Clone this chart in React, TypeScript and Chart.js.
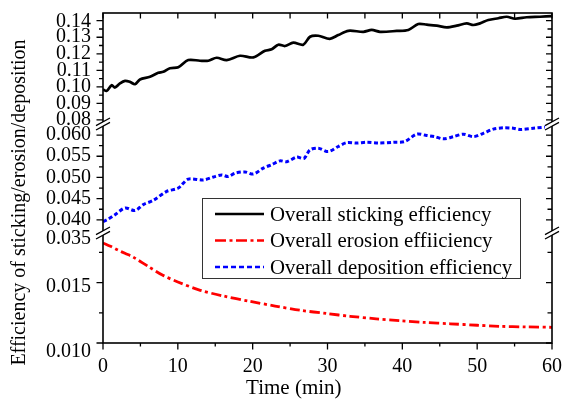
import React, { useEffect, useRef } from 'react';
import { Chart, registerables } from 'chart.js';

Chart.register(...registerables);

// ---------------- data ----------------
const stickingTime = [0, 0.5, 1.16, 1.6, 2.27, 2.94, 3.6, 4.28, 4.94, 6.28, 7.39, 8.06, 8.95, 10.06, 11.4, 12.96, 14.07, 15.19, 16.53, 18.31, 20.09, 21.65, 22.54, 23.43, 24.32, 25.43, 26.77, 27.66, 28.77, 30.3, 31.44, 32.78, 34.79, 35.91, 37.02, 39.25, 40.8, 42.13, 43.26, 44.6, 45.93, 47.27, 48.6, 49.49, 50.38, 51.49, 52.83, 53.95, 55.06, 56.62, 58.4, 60];
const stickingValue = [0.0984, 0.0976, 0.101, 0.0996, 0.1021, 0.1036, 0.103, 0.1016, 0.1045, 0.1061, 0.1085, 0.1091, 0.1113, 0.1118, 0.1162, 0.1158, 0.1158, 0.1176, 0.1162, 0.1188, 0.1178, 0.1218, 0.1227, 0.1255, 0.1247, 0.1267, 0.1255, 0.1303, 0.1309, 0.129, 0.1313, 0.1339, 0.1333, 0.1344, 0.1333, 0.1338, 0.1344, 0.138, 0.1376, 0.137, 0.136, 0.137, 0.1384, 0.1374, 0.1384, 0.1404, 0.1415, 0.1424, 0.1412, 0.1421, 0.1424, 0.1428];

const erosionTime = [0, 1, 2, 3, 4, 6, 8, 10, 13, 16, 19.6, 23, 26.3, 30, 33, 36.5, 39.7, 43, 46.4, 50, 53, 56.5, 60];
const erosionValue = [0.01828, 0.018, 0.01768, 0.0174, 0.01712, 0.01635, 0.0156, 0.01505, 0.01436, 0.0139, 0.01345, 0.01306, 0.01271, 0.01243, 0.01221, 0.012, 0.01184, 0.0117, 0.01159, 0.01147, 0.01138, 0.01133, 0.0113];

const depositionTime = [0, 0.71, 1.6, 2.94, 4.28, 5.39, 6.72, 8.51, 10.06, 11.4, 13.4, 14.74, 15.86, 16.74, 17.64, 18.98, 20.09, 21.42, 22.54, 23.65, 24.55, 25.89, 26.86, 27.66, 28.77, 30.11, 31.44, 32.57, 33.9, 35.24, 36.79, 38.79, 40.36, 41.92, 43.26, 44.37, 45.48, 46.81, 48.15, 49.49, 50.82, 52.16, 53.49, 54.83, 55.73, 57.5, 59.74];
const depositionValue = [0.0396, 0.0402, 0.0412, 0.0428, 0.0422, 0.0436, 0.0446, 0.0467, 0.0475, 0.0496, 0.0494, 0.0501, 0.0506, 0.0502, 0.051, 0.0513, 0.0508, 0.0522, 0.053, 0.0539, 0.0537, 0.0548, 0.0545, 0.0565, 0.0569, 0.0561, 0.0573, 0.0582, 0.0581, 0.0583, 0.0581, 0.0583, 0.0585, 0.0602, 0.0599, 0.0596, 0.0591, 0.0596, 0.0602, 0.0596, 0.0604, 0.0614, 0.0617, 0.0616, 0.0613, 0.0616, 0.062];

const seriesLabels = ['Overall sticking efficiency', 'Overall erosion effiiciency', 'Overall deposition efficiency'];

const xTickValues = [0, 10, 20, 30, 40, 50, 60];
const xMinorValues = [5, 15, 25, 35, 45, 55];

const topTickValues = [0.08, 0.09, 0.1, 0.11, 0.12, 0.13, 0.14];
const topTickLabels = ['0.08', '0.09', '0.10', '0.11', '0.12', '0.13', '0.14'];
const topMinorValues = [0.085, 0.095, 0.105, 0.115, 0.125, 0.135];

const midTickValues = [0.04, 0.045, 0.05, 0.055, 0.06];
const midTickLabels = ['0.040', '0.045', '0.050', '0.055', '0.060'];
const midMinorValues = [0.0425, 0.0475, 0.0525, 0.0575];

const botTickValues = [0.01, 0.015];
const botMinorValues = [0.0125, 0.0175];
const botLabelValues = [0.0186, 0.015, 0.01];
const botLabelTexts = ['0.035', '0.015', '0.010'];

const xTitle = 'Time (min)';
const yTitle = 'Efficiency of sticking/erosion/deposition';

// ---------------- styling ----------------
const FONT = "'Liberation Serif', 'Times New Roman', Times, serif";
const COLORS = ['#000000', '#ff0000', '#0000ff'];
const DASHES: number[][] = [[], [10, 3.5, 3, 3.5], [4, 2.5]];
const LEGEND_DASHES: number[][] = [[], [11, 3.5, 3, 3.5], [5, 3]];
const LABEL_NUDGE: Record<string, number> = { '0.015': 4, '0.010': 9, '0.14': 1.5 };

const toPoints = (xs: number[], ys: number[]) => xs.map((x, i) => ({ x, y: ys[i] }));

const decorPlugin = {
  id: 'decor',
  afterDraw(chart: any) {
    const ctx: CanvasRenderingContext2D = chart.ctx;
    const { left, right, top, bottom } = chart.chartArea;
    const xs = chart.scales.x;
    const panels = [
      { s: chart.scales.yTop, major: topTickValues, minor: topMinorValues, lv: topTickValues, lt: topTickLabels },
      { s: chart.scales.yMid, major: midTickValues, minor: midMinorValues, lv: midTickValues, lt: midTickLabels },
      { s: chart.scales.yBot, major: botTickValues, minor: botMinorValues, lv: botLabelValues, lt: botLabelTexts },
    ];
    ctx.save();
    ctx.strokeStyle = '#000';
    ctx.lineWidth = 1.6;
    ctx.strokeRect(left, top, right - left, bottom - top);

    ctx.lineWidth = 1.3;
    ctx.beginPath();
    xTickValues.forEach((v) => {
      const p = xs.getPixelForValue(v);
      ctx.moveTo(p, bottom); ctx.lineTo(p, bottom + 6.5);
      ctx.moveTo(p, top); ctx.lineTo(p, top + 5.5);
    });
    xMinorValues.forEach((v) => {
      const p = xs.getPixelForValue(v);
      ctx.moveTo(p, bottom); ctx.lineTo(p, bottom + 3.5);
      ctx.moveTo(p, top); ctx.lineTo(p, top + 5.5);
    });
    panels.forEach(({ s, major, minor }) => {
      major.forEach((v) => {
        const p = s.getPixelForValue(v);
        ctx.moveTo(left, p); ctx.lineTo(left - 6.5, p);
        ctx.moveTo(right, p); ctx.lineTo(right - 6, p);
      });
      minor.forEach((v) => {
        const p = s.getPixelForValue(v);
        ctx.moveTo(left, p); ctx.lineTo(left - 4, p);
        ctx.moveTo(right, p); ctx.lineTo(right - 4.5, p);
      });
    });
    ctx.stroke();

    // axis breaks
    const breaks = [chart.scales.yTop.bottom, chart.scales.yMid.bottom];
    const dx = 7, dy = 3.8, g = 2.2;
    breaks.forEach((by: number) => {
      [left, right].forEach((bx: number) => {
        ctx.fillStyle = '#fff';
        ctx.beginPath();
        ctx.moveTo(bx - dx, by - g + dy);
        ctx.lineTo(bx + dx, by - g - dy);
        ctx.lineTo(bx + dx, by + g - dy);
        ctx.lineTo(bx - dx, by + g + dy);
        ctx.closePath();
        ctx.fill();
        ctx.beginPath();
        ctx.lineWidth = 1.3;
        ctx.moveTo(bx - dx, by - g + dy); ctx.lineTo(bx + dx, by - g - dy);
        ctx.moveTo(bx - dx, by + g + dy); ctx.lineTo(bx + dx, by + g - dy);
        ctx.stroke();
      });
    });

    // tick labels
    ctx.fillStyle = '#000';
    ctx.font = `20px ${FONT}`;
    ctx.textAlign = 'right';
    ctx.textBaseline = 'middle';
    panels.forEach(({ s, lv, lt }) => {
      lv.forEach((v, i) => {
        const p = s.getPixelForValue(v) + (LABEL_NUDGE[lt[i]] || 0);
        ctx.fillText(lt[i], left - 12, p);
      });
    });
    ctx.textAlign = 'center';
    ctx.textBaseline = 'alphabetic';
    xTickValues.forEach((v) => {
      ctx.fillText(String(v), xs.getPixelForValue(v), bottom + 29);
    });
    ctx.font = `21px ${FONT}`;
    ctx.fillText(xTitle, xs.getPixelForValue(25.5), 394);

    ctx.font = `20px ${FONT}`;
    ctx.save();
    ctx.translate(25, 202.5);
    ctx.rotate(-Math.PI / 2);
    ctx.fillText(yTitle, 0, 0);
    ctx.restore();

    // legend
    const lx = 202.5, ly = 198.5, lw = 318, lh = 80;
    ctx.fillStyle = '#fff';
    ctx.fillRect(lx, ly, lw, lh);
    ctx.strokeStyle = '#333';
    ctx.lineWidth = 1;
    ctx.strokeRect(lx, ly, lw, lh);
    const rows = [214, 240.5, 267];
    ctx.font = `20.8px ${FONT}`;
    chart.data.datasets.forEach((ds: any, i: number) => {
      const y = rows[i];
      ctx.save();
      ctx.strokeStyle = ds.borderColor;
      ctx.lineWidth = 2.5;
      ctx.setLineDash(LEGEND_DASHES[i]);
      ctx.beginPath();
      ctx.moveTo(215, y); ctx.lineTo(264, y);
      ctx.stroke();
      ctx.restore();
      ctx.fillStyle = '#000';
      ctx.textAlign = 'left';
      ctx.fillText(ds.label, 270, y + 6.5);
    });
    ctx.restore();
  },
};

export default function App() {
  const ref = useRef<HTMLCanvasElement | null>(null);
  useEffect(() => {
    if (!ref.current) return;
    const chart = new Chart(ref.current, {
      type: 'line',
      data: {
        datasets: [
          { label: seriesLabels[0], data: toPoints(stickingTime, stickingValue), yAxisID: 'yTop', borderColor: COLORS[0], borderWidth: 2.7, borderDash: DASHES[0], pointRadius: 0, tension: 0.3, fill: false },
          { label: seriesLabels[1], data: toPoints(erosionTime, erosionValue), yAxisID: 'yBot', borderColor: COLORS[1], borderWidth: 2.8, borderDash: DASHES[1], pointRadius: 0, tension: 0.3, fill: false },
          { label: seriesLabels[2], data: toPoints(depositionTime, depositionValue), yAxisID: 'yMid', borderColor: COLORS[2], borderWidth: 3, borderDash: DASHES[2], pointRadius: 0, tension: 0.3, fill: false },
        ],
      },
      options: {
        animation: false,
        responsive: true,
        maintainAspectRatio: false,
        layout: { padding: { left: 103, top: 13, right: 12, bottom: 56 } },
        plugins: { legend: { display: false }, tooltip: { enabled: false } },
        scales: {
          x: { type: 'linear', min: 0, max: 60, display: false },
          yTop: { type: 'linear', display: false, position: 'left', stack: 'eff', stackWeight: 111, weight: 3, min: 0.07755, max: 0.14466 },
          yMid: { type: 'linear', display: false, position: 'left', stack: 'eff', stackWeight: 109, weight: 2, min: 0.0369, max: 0.0626 },
          yBot: { type: 'linear', display: false, position: 'left', stack: 'eff', stackWeight: 110, weight: 1, min: 0.01, max: 0.0191 },
        },
      } as any,
      plugins: [decorPlugin],
    });
    return () => chart.destroy();
  }, []);
  return (
    <div style={{ position: 'fixed', left: 0, top: 0, width: 564, height: 399, background: '#fff' }}>
      <canvas ref={ref} />
    </div>
  );
}
